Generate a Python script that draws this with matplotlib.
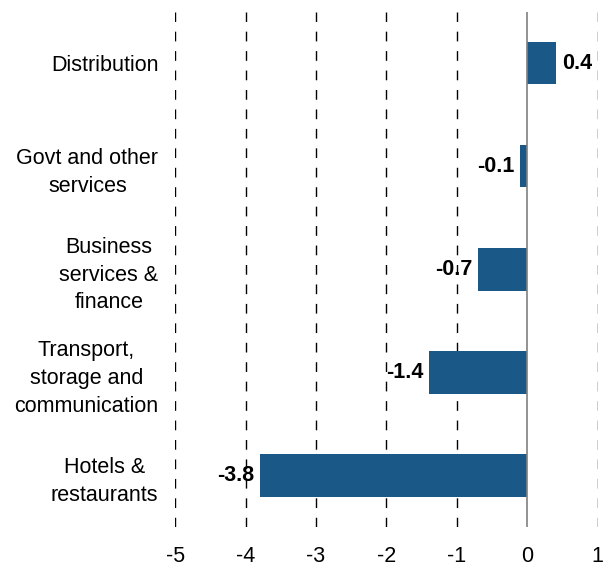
import matplotlib.pyplot as plt

plt.rcParams['font.family'] = ['Liberation Sans', 'DejaVu Sans']

categories = ['Distribution', 'Govt and other\nservices', 'Business\nservices &\nfinance',
              'Transport,\nstorage and\ncommunication', 'Hotels &\nrestaurants']
values = [0.4, -0.1, -0.7, -1.4, -3.8]
xticks = [-5, -4, -3, -2, -1, 0, 1]

fig = plt.figure(figsize=(6.1, 5.7), dpi=100)
ax = fig.add_axes([0.287, 0.0754, 0.693, 0.904])

ypos = list(range(len(categories)))
ax.barh(ypos, values, height=0.41, color='#1a5887', zorder=3)

for x in xticks:
    if x == 0:
        ax.axvline(x, color='#808080', lw=1.2, zorder=4)
    else:
        ax.axvline(x, color='black', lw=1, ls=(0, (7, 7)), zorder=1)

for y, v in zip(ypos, values):
    if v >= 0:
        ax.text(v + 0.1, y, f'{v:.1f}', ha='left', va='center', fontsize=15.5, fontweight='bold')
    else:
        ax.text(v - 0.08, y, f'{v:.1f}', ha='right', va='center', fontsize=15.5, fontweight='bold')

ax.set_xlim(-5, 1)
ax.set_ylim(len(categories) - 0.5, -0.5)
ax.set_xticks(xticks)
ax.set_xticklabels([str(t) for t in xticks], fontsize=15.5)
ax.set_yticks(ypos)
ax.set_yticklabels(categories, fontsize=15.5, multialignment='center', linespacing=1.42)
ax.tick_params(axis='both', length=0)
ax.tick_params(axis='y', pad=12)
ax.tick_params(axis='x', pad=14)
for s in ax.spines.values():
    s.set_visible(False)

fig.savefig('out.png', dpi=100)
